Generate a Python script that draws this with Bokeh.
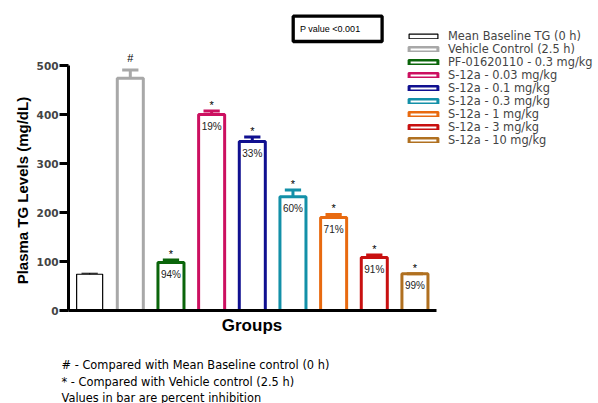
import math
from bokeh.plotting import figure
from bokeh.models import ColumnDataSource, Legend, LegendItem, Label, FixedTicker, Range1d
from bokeh.core.properties import value
from bokeh.embed import file_html
from bokeh.resources import INLINE

# ---------------- data ----------------
groups = ["Mean Baseline TG (0 h)", "Vehicle Control (2.5 h)", "PF-01620110 - 0.3 mg/kg",
          "S-12a - 0.03 mg/kg", "S-12a - 0.1 mg/kg", "S-12a - 0.3 mg/kg",
          "S-12a - 1 mg/kg", "S-12a - 3 mg/kg", "S-12a - 10 mg/kg"]
positions = [1, 2, 3, 4, 5, 6, 7, 8, 9]
tg_mean = [74, 474, 98, 400, 345, 232, 190, 108, 75]
tg_upper = [76, 491, 103, 407, 354, 246, 196, 113.5, 75]
significance = ["", "#", "*", "*", "*", "*", "*", "*", "*"]
inhibition = ["", "", "94%", "19%", "33%", "60%", "71%", "91%", "99%"]
colors = ["#000000", "#a8a8a8", "#0a650a", "#cc1060", "#101090",
          "#1390a8", "#e86a10", "#c81010", "#b07020"]
outline_widths = [1.2, 3, 3, 3, 3, 3, 3, 3, 3]
y_ticks = [0, 100, 200, 300, 400, 500]
y_label = "Plasma TG  Levels (mg/dL)"
x_label = "Groups"
footnotes = ["# -  Compared with Mean Baseline control (0 h)",
             "* - Compared with Vehicle control (2.5 h)",
             "Values in bar are percent inhibition"]
p_value_text = "P value <0.001"

# ---------------- geometry (canvas px -> data) ----------------
W, H = 598, 403
AX_L, AX_R = 68, 436          # x-axis pixel extent
AX_B, AX_T = 310, 65          # y-axis pixel extent (0 .. 500)
XA0, XA1 = 0.48, 9.53         # data extent of the x axis
PX_PER_X = (AX_R - AX_L) / (XA1 - XA0)
PX_PER_Y = (AX_B - AX_T) / 500.0


def dx(px):
    return XA0 + (px - AX_L) / PX_PER_X


def dy(py):
    return (AX_B - py) / PX_PER_Y


SANS = "Liberation Sans"
WIDE = "DejaVu Sans"

p = figure(width=W, height=H, x_range=Range1d(dx(0), dx(W)), y_range=Range1d(dy(H), dy(0)),
           output_backend="svg", toolbar_location=None,
           min_border_left=0, min_border_right=0, min_border_top=0, min_border_bottom=0)
p.outline_line_color = None
p.grid.visible = False
p.title.visible = False
p.background_fill_color = "white"
p.border_fill_color = "white"

src = ColumnDataSource(dict(x=positions, top=tg_mean, upper=tg_upper, color=colors,
                            lw=outline_widths, sig=significance, inh=inhibition,
                            cl=[v - 0.2 for v in positions], cr=[v + 0.2 for v in positions]))

bars = p.vbar(x="x", top="top", width=0.64, source=src, fill_color="white",
              line_color="color", line_width="lw")
p.segment(x0="x", y0="top", x1="x", y1="upper", source=src, line_color="color", line_width="lw")
p.segment(x0="cl", y0="upper", x1="cr", y1="upper", source=src, line_color="color", line_width="lw")

# significance markers
star_src = ColumnDataSource(dict(x=positions[2:], y=tg_upper[2:], t=significance[2:]))
p.text(x="x", y="y", text="t", source=star_src, text_align="center", text_baseline="bottom",
       text_font=value(SANS), text_font_size="11px", text_color="black", y_offset=0)
hash_src = ColumnDataSource(dict(x=positions[1:2], y=tg_upper[1:2], t=significance[1:2]))
p.text(x="x", y="y", text="t", source=hash_src, text_align="center", text_baseline="bottom",
       text_font=value(SANS), text_font_size="11px", text_color="black", y_offset=-6)

# percent inhibition inside bars
p.text(x="x", y="top", text="inh", source=src, text_align="center", text_baseline="middle",
       text_font=value(SANS), text_font_size="10px", text_color="#222222", y_offset=12)

# ---------------- axes (fixed at the data origin) ----------------
ya = p.yaxis[0]
ya.fixed_location = XA0
ya.bounds = (0, 500)
ya.ticker = FixedTicker(ticks=y_ticks)
ya.axis_line_width = 3
ya.major_tick_line_width = 3
ya.major_tick_out = 9
ya.major_tick_in = 0
ya.minor_tick_line_color = None
ya.major_label_standoff = 1
ya.major_label_text_font = WIDE
ya.major_label_text_font_style = "bold"
ya.major_label_text_font_size = "10.5px"

xa = p.xaxis[0]
xa.fixed_location = 0
xa.bounds = (XA0, XA1)
xa.ticker = FixedTicker(ticks=[])
xa.axis_line_width = 3
xa.major_tick_out = 0
xa.major_tick_in = 0
xa.minor_tick_line_color = None
xa.major_label_text_font_size = "0px"

p.add_layout(Label(x=dx(21.5), y=dy(188), text=y_label, angle=math.pi / 2,
                   text_align="center", text_baseline="middle", text_font=SANS,
                   text_font_style="bold", text_font_size="15px", text_color="black"))
p.add_layout(Label(x=dx(251.5), y=dy(325), text=x_label, text_align="center",
                   text_baseline="middle", text_font=SANS, text_font_style="bold",
                   text_font_size="17px", text_color="black"))

# ---------------- legend: one single-row legend per group, 13 px apart ----------------
ROW0, ROW_STEP, ROW_HALF = 35.5, 13.05, 7
for i, g in enumerate(groups):
    row_bottom = ROW0 + i * ROW_STEP + ROW_HALF
    lg = Legend(items=[LegendItem(label=g, renderers=[bars], index=i)],
                location=(405, H - row_bottom), padding=0, margin=0, spacing=0,
                glyph_width=36, glyph_height=6, label_height=13, label_standoff=7,
                label_text_font=WIDE, label_text_font_size="11.4px",
                border_line_color=None, background_fill_alpha=0)
    p.add_layout(lg, "center")

# ---------------- p value box ----------------
p.quad(left=[dx(292.7)], right=[dx(381.6)], top=[dy(15.7)], bottom=[dy(41.0)],
       line_color="black", line_width=3.3, fill_color="white")
p.add_layout(Label(x=dx(299.5), y=dy(28.4), text=p_value_text, text_align="left",
                   text_baseline="middle", text_font=SANS, text_font_size="9px",
                   text_color="black"))

# ---------------- footnotes ----------------
for txt, py in zip(footnotes, [364, 381, 397]):
    p.add_layout(Label(x=dx(61), y=dy(py), text=txt, text_align="left", text_baseline="middle",
                       text_font=WIDE, text_font_size="11.4px", text_color="black"))

open("out.html", "w").write(file_html(p, INLINE))
